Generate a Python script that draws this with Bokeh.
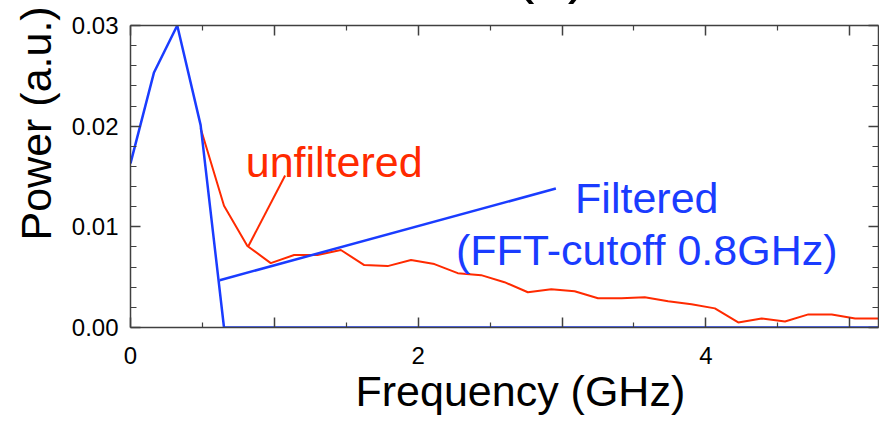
from bokeh.plotting import figure
from bokeh.models import LinearAxis, FixedTicker, Label, PrintfTickFormatter, Title
from bokeh.embed import file_html
from bokeh.resources import INLINE

# ---- data ----
freq = [0.0, 0.1625, 0.325, 0.4875, 0.65, 0.8125, 0.975, 1.1375, 1.3, 1.4625,
        1.625, 1.7875, 1.95, 2.1125, 2.275, 2.4375, 2.6, 2.7625, 2.925, 3.0875,
        3.25, 3.4125, 3.575, 3.7375, 3.9, 4.0625, 4.225, 4.3875, 4.55, 4.7125,
        4.875, 5.0375, 5.2]
filtered = [0.0163, 0.0253, 0.0300, 0.0201, 0.0, 0.0, 0.0, 0.0, 0.0, 0.0,
            0.0, 0.0, 0.0, 0.0, 0.0, 0.0, 0.0, 0.0, 0.0, 0.0,
            0.0, 0.0, 0.0, 0.0, 0.0, 0.0, 0.0, 0.0, 0.0, 0.0,
            0.0, 0.0, 0.0]
unf_freq = freq[3:]
unfiltered = [0.0198, 0.0121, 0.0081, 0.0064, 0.0072, 0.0072, 0.0077, 0.0062, 0.0061, 0.0067,
              0.0063, 0.0054, 0.0052, 0.0045, 0.0035, 0.0038, 0.0036, 0.0029, 0.0029, 0.0030,
              0.0026, 0.0023, 0.0019, 0.0005, 0.0009, 0.0006, 0.0013, 0.0013, 0.0009, 0.0009]

x_major = [0, 1, 2, 3, 4, 5]
x_minor = [0.5, 1.5, 2.5, 3.5, 4.5]
x_labels = {0: "0", 1: "", 2: "2", 3: "", 4: "4", 5: ""}
y_major = [0.0, 0.01, 0.02, 0.03]
y_minor = [0.002, 0.004, 0.006, 0.008, 0.012, 0.014, 0.016, 0.018,
           0.022, 0.024, 0.026, 0.028]

red_pointer_x = [0.82, 1.075]
red_pointer_y = [0.0081, 0.0151]
blue_pointer_x = [0.62, 2.957]
blue_pointer_y = [0.0047, 0.0138]

RED = "#ff2a00"
BLUE = "#1a3cff"
AX = "#404040"
FONT = "Liberation Sans"
BIG = "43px"

HIDE = 130  # pixels of the canvas pushed above the window (only the foot of "(a)" shows)

p = figure(width=879, height=421 + HIDE, x_range=(0, 5.2), y_range=(0, 0.03),
           output_backend="svg", toolbar_location=None,
           min_border_left=130, min_border_right=1, min_border_top=25 + HIDE,
           min_border_bottom=94, margin=(-HIDE, 0, 0, 0))
p.grid.visible = False
p.outline_line_color = None
p.background_fill_color = "white"
p.border_fill_color = "white"


def style_axis(ax, major, minor, maj_len, min_len, show_labels):
    ax.ticker = FixedTicker(ticks=major, minor_ticks=minor)
    ax.axis_line_color = AX
    ax.axis_line_width = 1.5
    ax.major_tick_line_color = AX
    ax.minor_tick_line_color = AX
    ax.major_tick_line_width = 1.5
    ax.minor_tick_line_width = 1.2
    ax.major_tick_in = maj_len
    ax.major_tick_out = 0
    ax.minor_tick_in = min_len
    ax.minor_tick_out = 0
    ax.major_label_text_font = FONT
    ax.major_label_text_color = "black"
    if show_labels:
        ax.major_label_text_font_size = "24px"
    else:
        ax.major_label_overrides = {t: "" for t in major}
        ax.major_label_text_font_size = "1px"
        ax.major_label_standoff = 0


xa = p.xaxis[0]
style_axis(xa, x_major, x_minor, 10, 5, True)
xa.major_label_overrides = x_labels
xa.major_label_standoff = 19

ya = p.yaxis[0]
style_axis(ya, y_major, y_minor, 10, 6, True)
ya.formatter = PrintfTickFormatter(format="%.2f")
ya.major_label_standoff = 12

top = LinearAxis()
style_axis(top, x_major, x_minor, 10, 5, False)
p.add_layout(top, "above")
right = LinearAxis()
style_axis(right, y_major, y_minor, 10, 6, False)
p.add_layout(right, "right")

# data lines
p.line(unf_freq, unfiltered, line_color=RED, line_width=2)
p.line(freq, filtered, line_color=BLUE, line_width=2.5)

# pointers
p.line(red_pointer_x, red_pointer_y, line_color=RED, line_width=2)
p.line(blue_pointer_x, blue_pointer_y, line_color=BLUE, line_width=2.5)

# annotation texts
p.add_layout(Label(x=0.801, y=0.01642, text="unfiltered", text_color=RED,
                   text_font=FONT, text_font_size=BIG,
                   text_align="left", text_baseline="alphabetic"))
p.add_layout(Label(x=3.589, y=0.01284, text="Filtered", text_color=BLUE,
                   text_font=FONT, text_font_size=BIG,
                   text_align="center", text_baseline="alphabetic"))
p.add_layout(Label(x=3.589, y=0.00766, text="(FFT-cutoff 0.8GHz)", text_color=BLUE,
                   text_font=FONT, text_font_size=BIG,
                   text_align="center", text_baseline="alphabetic"))

# axis titles (side-panel titles, offset along the frame)
p.add_layout(Title(text="Frequency (GHz)", align="left", offset=225,
                   vertical_align="top", standoff=0, text_color="black",
                   text_font=FONT, text_font_size=BIG,
                   text_font_style="normal"), "below")
p.add_layout(Title(text="Power (a.u.)", align="left", offset=87,
                   vertical_align="middle", standoff=16, text_color="black",
                   text_font=FONT, text_font_size=BIG,
                   text_font_style="normal"), "left")
p.add_layout(Title(text="(a)", align="left", offset=384,
                   vertical_align="bottom", standoff=42, text_color="black",
                   text_font=FONT, text_font_size="60px",
                   text_font_style="normal"), "above")

open("out.html", "w").write(file_html(p, INLINE))
